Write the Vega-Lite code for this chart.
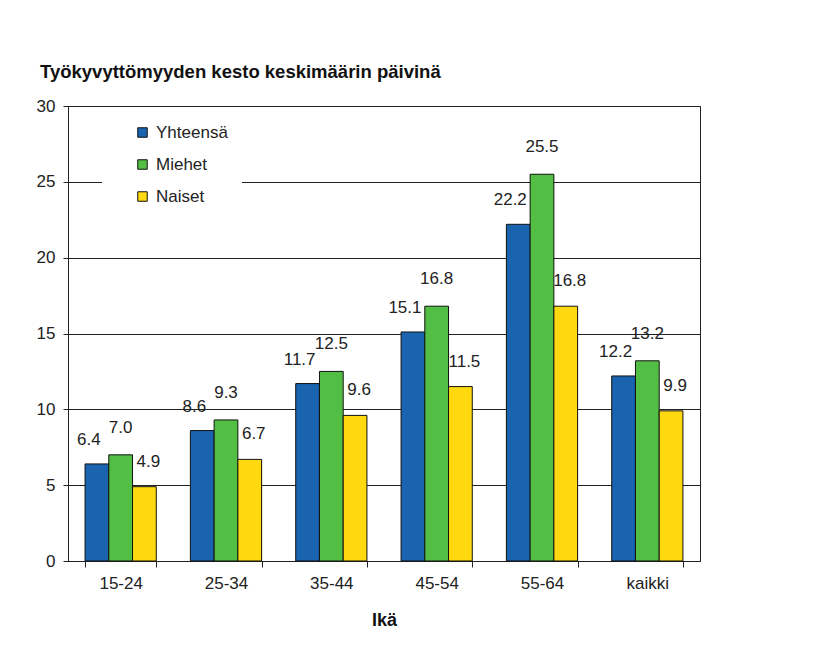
{
  "$schema": "https://vega.github.io/schema/vega-lite/v6.json",
  "width": 632,
  "height": 455,
  "autosize": {"type": "none"},
  "padding": {"left": 68, "top": 106, "right": 123, "bottom": 96},
  "background": "white",
  "config": {
    "font": "Liberation Sans",
    "view": {"stroke": "#222", "strokeWidth": 1}
  },
  "title": {
    "text": "Työkyvyttömyyden kesto keskimäärin päivinä",
    "anchor": "start",
    "frame": "group",
    "dx": -28,
    "offset": 16,
    "fontSize": 18.5,
    "fontWeight": "bold",
    "color": "#111"
  },
  "data": {
    "values": [
      {"age": "15-24", "series": "Yhteensä", "value": 6.4},
      {"age": "15-24", "series": "Miehet", "value": 7.0},
      {"age": "15-24", "series": "Naiset", "value": 4.9},
      {"age": "25-34", "series": "Yhteensä", "value": 8.6},
      {"age": "25-34", "series": "Miehet", "value": 9.3},
      {"age": "25-34", "series": "Naiset", "value": 6.7},
      {"age": "35-44", "series": "Yhteensä", "value": 11.7},
      {"age": "35-44", "series": "Miehet", "value": 12.5},
      {"age": "35-44", "series": "Naiset", "value": 9.6},
      {"age": "45-54", "series": "Yhteensä", "value": 15.1},
      {"age": "45-54", "series": "Miehet", "value": 16.8},
      {"age": "45-54", "series": "Naiset", "value": 11.5},
      {"age": "55-64", "series": "Yhteensä", "value": 22.2},
      {"age": "55-64", "series": "Miehet", "value": 25.5},
      {"age": "55-64", "series": "Naiset", "value": 16.8},
      {"age": "kaikki", "series": "Yhteensä", "value": 12.2},
      {"age": "kaikki", "series": "Miehet", "value": 13.2},
      {"age": "kaikki", "series": "Naiset", "value": 9.9}
    ]
  },
  "encoding": {
    "x": {
      "field": "age",
      "type": "nominal",
      "sort": ["15-24", "25-34", "35-44", "45-54", "55-64", "kaikki"],
      "scale": {"paddingInner": 0.324, "paddingOuter": 0.162},
      "axis": {
        "title": "Ikä",
        "titleFontSize": 18,
        "titleFontWeight": "bold",
        "titleColor": "#111",
        "titlePadding": 20,
        "labelAngle": 0,
        "labelFontSize": 17,
        "labelColor": "#222",
        "labelPadding": 8,
        "tickBand": "extent",
        "tickColor": "#222",
        "tickSize": 6,
        "domainColor": "#222"
      }
    },
    "xOffset": {
      "field": "series",
      "type": "nominal",
      "sort": ["Yhteensä", "Miehet", "Naiset"],
      "scale": {"paddingInner": 0, "paddingOuter": 0}
    },
    "y": {
      "field": "value",
      "type": "quantitative",
      "scale": {"domain": [0, 30]},
      "axis": {
        "title": null,
        "values": [0, 5, 10, 15, 20, 25, 30],
        "grid": true,
        "gridColor": "#222",
        "gridOpacity": 1,
        "gridWidth": 1,
        "labelFontSize": 17,
        "labelColor": "#222",
        "labelPadding": 8,
        "tickColor": "#222",
        "tickSize": 5,
        "domainColor": "#222"
      }
    }
  },
  "layer": [
    {
      "mark": {"type": "bar", "stroke": "#111", "strokeWidth": 1, "opacity": 1},
      "encoding": {
        "color": {
          "field": "series",
          "type": "nominal",
          "sort": ["Yhteensä", "Miehet", "Naiset"],
          "scale": {"domain": ["Yhteensä", "Miehet", "Naiset"], "range": ["#1a63ae", "#52bf44", "#ffd90f"]},
          "legend": {
            "title": null,
            "orient": "none",
            "legendX": 34,
            "legendY": 4,
            "padding": 14,
            "fillColor": "white",
            "strokeColor": null,
            "symbolType": "square",
            "symbolSize": 90,
            "symbolStrokeColor": "#111",
            "symbolStrokeWidth": 1,
            "symbolOpacity": 1,
            "symbolOffset": 18,
            "labelOffset": 5,
            "labelFontSize": 17,
            "labelColor": "#222",
            "rowPadding": 14
          }
        }
      }
    },
    {
      "transform": [{"filter": "datum.series === 'Yhteensä'"}],
      "mark": {"type": "text", "baseline": "alphabetic", "dy": -19, "dx": -8, "fontSize": 17, "color": "#222"},
      "encoding": {
        "text": {"field": "value", "type": "quantitative", "format": ".1f"}
      }
    },
    {
      "transform": [{"filter": "datum.series === 'Miehet'"}],
      "mark": {"type": "text", "baseline": "alphabetic", "dy": -22, "dx": 0, "fontSize": 17, "color": "#222"},
      "encoding": {
        "text": {"field": "value", "type": "quantitative", "format": ".1f"}
      }
    },
    {
      "transform": [{"filter": "datum.series === 'Naiset'"}],
      "mark": {"type": "text", "baseline": "alphabetic", "dy": -20, "dx": 4, "fontSize": 17, "color": "#222"},
      "encoding": {
        "text": {"field": "value", "type": "quantitative", "format": ".1f"}
      }
    }
  ]
}
